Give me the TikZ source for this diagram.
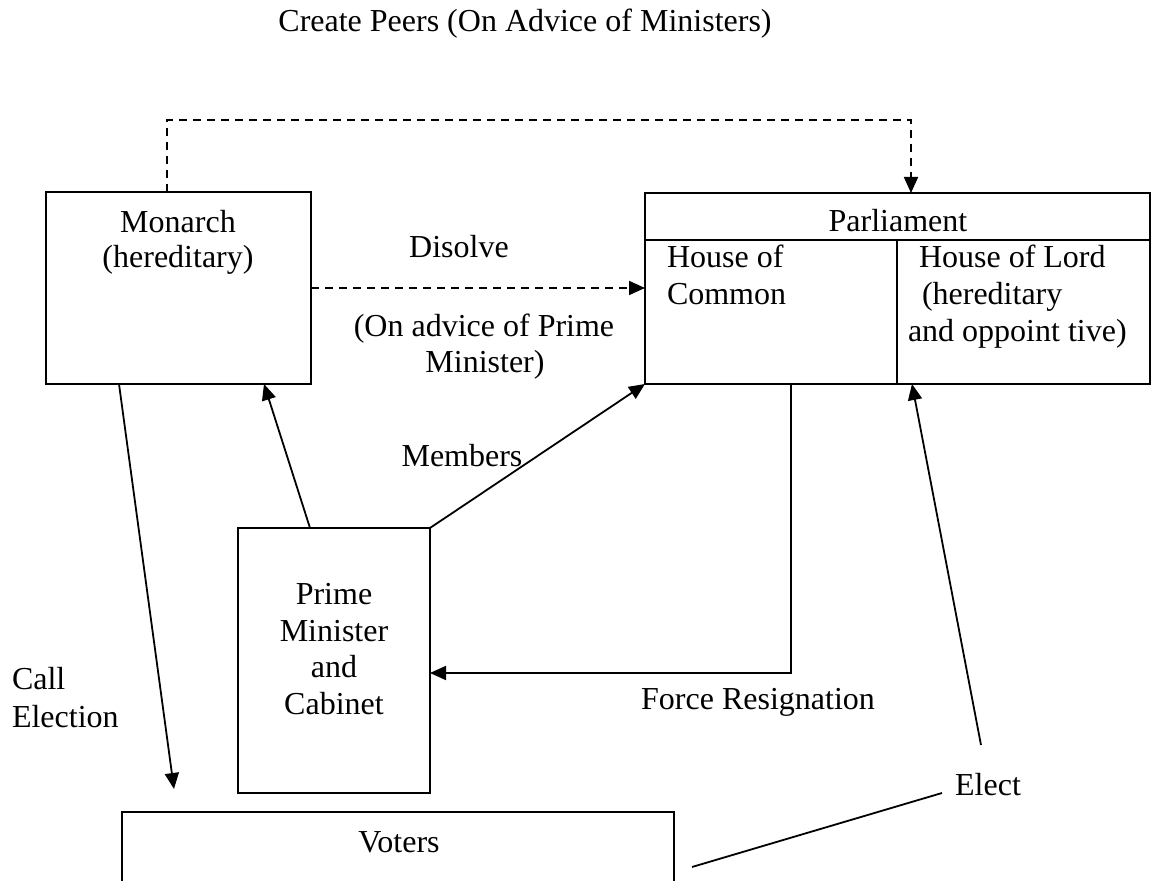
\documentclass[tikz,border=0pt]{standalone}
\usepackage{fontspec}
\setmainfont{Liberation Serif}
\usetikzlibrary{arrows.meta}
\begin{document}
\begin{tikzpicture}[x=0.5pt,y=-0.5pt,
  every node/.style={inner sep=0pt, outer sep=0pt},
  box/.style={draw, line width=0.9pt, rectangle},
  txt/.style={font=\fontsize{16pt}{18.4pt}\selectfont, anchor=base},
  txtl/.style={txt, anchor=base west},
  link/.style={line width=0.9pt},
  arr/.style={link, -{Triangle[length=8pt,width=7pt]}},
  darr/.style={arr, dash pattern=on 4pt off 3pt},
]
\useasboundingbox (0,0) rectangle (1152,881);
\clip (0,0) rectangle (1152,881);

% boxes
\node[box, minimum width=132.5pt, minimum height=96pt] (mon) at (178.5,288) {};
\node[box, minimum width=252.5pt, minimum height=95.5pt] (par) at (897.5,288.5) {};
\node[box, minimum width=96pt, minimum height=132.5pt] (pm) at (334,660.5) {};
\node[box, minimum width=276pt, minimum height=69pt] (vot) at (398,881) {};

% parliament header and the two houses
\coordinate (hdr) at (0,240);
\coordinate (div) at (897,0);
\draw[link] (hdr -| par.west) -- (hdr -| par.east);
\draw[link] (div |- hdr) -- (div |- par.south);

% texts
\node[txt] (tpeers) at (525,32) {Create Peers (On Advice of Ministers)};
\node[txt] (tmon1) at (178,233) {Monarch};
\node[txt] (tmon2) at (178,268) {(hereditary)};
\node[txt] (tdis) at (459,258) {Disolve};
\node[txt] (tadv1) at (484,337) {(On advice of Prime};
\node[txt] (tadv2) at (485,373) {Minister)};
\node[txt] (tpar) at (898,232) {Parliament};
\node[txtl] (tcom1) at (667,268) {House of};
\node[txtl] (tcom2) at (667,305) {Common};
\node[txtl] (tlor1) at (919,268) {House of Lord};
\node[txtl] (tlor2) at (922,305) {(hereditary};
\node[txtl] (tlor3) at (908,342) {and oppoint tive)};
\node[txt] (tmem) at (462,467) {Members};
\node[txt] (tpm1) at (334,605) {Prime};
\node[txt] (tpm2) at (334,642) {Minister};
\node[txt] (tpm3) at (334,678) {and};
\node[txt] (tpm4) at (334,715) {Cabinet};
\node[txtl] (tcall1) at (12,690) {Call};
\node[txtl] (tcall2) at (12,728) {Election};
\node[txt] (tforce) at (758,710) {Force Resignation};
\node[txt] (tvot) at (399,853) {Voters};
\node[txt] (telect) at (988,796) {Elect};

% create peers (dashed, over the top)
\coordinate (peerL) at (167,120);
\coordinate (peerR) at (911,120);
\draw[darr] (peerL |- mon.north) -- (peerL) -- (peerR) -- (peerR |- par.north);

% dissolve
\draw[darr] (mon.east) -- (mon.east -| par.west);

% call election
\coordinate (callS) at (119,0);
\coordinate (callE) at (174,789);
\draw[arr] (callS |- mon.south) -- (callE);

% prime minister to monarch
\coordinate (pmS) at (310,0);
\coordinate (pmE) at (264,0);
\draw[arr] (pmS |- pm.north) -- (pmE |- mon.south);

% members
\draw[arr] (pm.north east) -- (par.south west);

% force resignation
\coordinate (frc) at (791,673);
\draw[arr] (frc |- par.south) -- (frc) -- (frc -| pm.east);

% elect
\coordinate (elS) at (981,745);
\coordinate (elE) at (912,0);
\draw[arr] (elS) -- (elE |- par.south);
\coordinate (vl1) at (692,867);
\coordinate (vl2) at (942,793);
\draw[link] (vl1) -- (vl2);
\end{tikzpicture}
\end{document}
